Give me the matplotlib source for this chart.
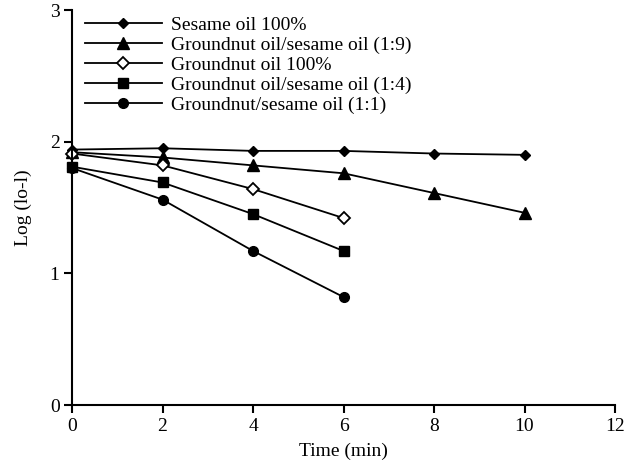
import matplotlib
matplotlib.use("Agg")
import matplotlib.pyplot as plt

plt.rcParams['font.family'] = ['Liberation Serif', 'DejaVu Serif']

time_a = [0, 2, 4, 6, 8, 10]
time_b = [0, 2, 4, 6]

sesame_100 = [1.94, 1.95, 1.93, 1.93, 1.91, 1.90]
gn_ses_1_9 = [1.92, 1.88, 1.82, 1.76, 1.61, 1.46]
groundnut_100 = [1.91, 1.82, 1.64, 1.42]
gn_ses_1_4 = [1.81, 1.69, 1.45, 1.17]
gn_ses_1_1 = [1.80, 1.56, 1.17, 0.82]

fig = plt.figure(figsize=(6.24, 4.68), dpi=100)
ax = fig.add_axes([0.1154, 0.1346, 0.8702, 0.844])

ax.plot(time_a, sesame_100, color='black', lw=1.3, marker='D', ms=5.5,
        label='Sesame oil 100%')
ax.plot(time_a, gn_ses_1_9, color='black', lw=1.3, marker='^', ms=9,
        label='Groundnut oil/sesame oil (1:9)')
ax.plot(time_b, groundnut_100, color='black', lw=1.3, marker='D', ms=6,
        mfc='white', mew=1.3, label='Groundnut oil 100%')
ax.plot(time_b, gn_ses_1_4, color='black', lw=1.3, marker='s', ms=7.5,
        label='Groundnut oil/sesame oil (1:4)')
ax.plot(time_b, gn_ses_1_1, color='black', lw=1.3, marker='o', ms=7,
        label='Groundnut/sesame oil (1:1)')

ax.set_xlim(0, 12)
ax.set_ylim(0, 3)
ax.set_xticks(range(0, 13, 2))
ax.set_yticks([0, 1, 2, 3])
ax.spines['top'].set_visible(False)
ax.spines['right'].set_visible(False)
ax.spines['left'].set_linewidth(1.5)
ax.spines['bottom'].set_linewidth(1.5)
ax.tick_params(direction='out', length=6, width=1.5, labelsize=14)
ax.tick_params(axis='x', pad=3)
ax.tick_params(axis='y', pad=3)
ax.set_xlabel('Time (min)', fontsize=14, labelpad=6)
ax.set_ylabel('Log (lo-l)', fontsize=14, labelpad=13)
for line in ax.lines:
    line.set_clip_on(False)

ax.legend(loc='upper left', bbox_to_anchor=(0.0235, 0.985), frameon=False,
          fontsize=14, handlelength=3.97, labelspacing=0.13,
          handletextpad=0.46, borderaxespad=0, borderpad=0)

fig.savefig('out.png', dpi=100)
